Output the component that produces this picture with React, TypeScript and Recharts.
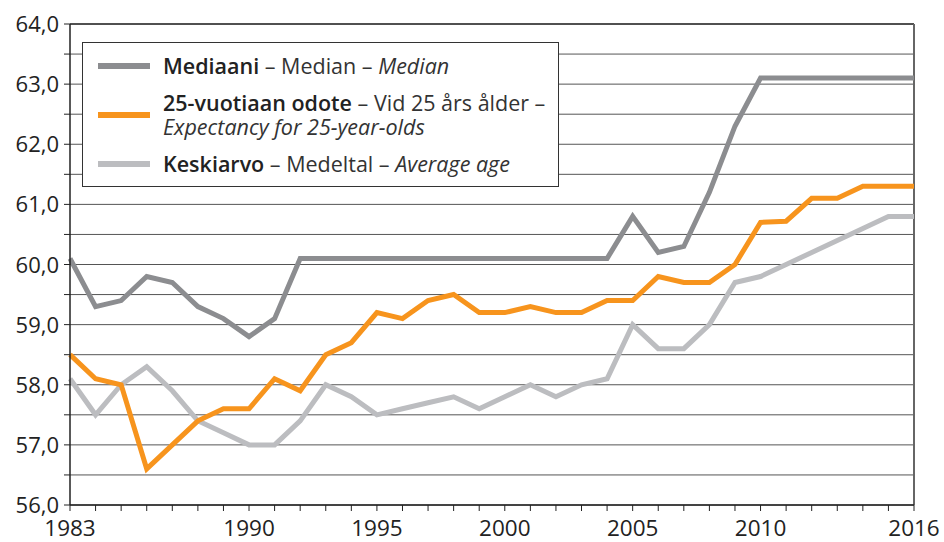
import React from "react";
import { LineChart, Line, XAxis, YAxis, CartesianGrid, ReferenceLine } from "recharts";

const YEARS = [
  1983, 1984, 1985, 1986, 1987, 1988, 1989, 1990, 1991, 1992, 1993, 1994, 1995, 1996, 1997, 1998, 1999,
  2000, 2001, 2002, 2003, 2004, 2005, 2006, 2007, 2008, 2009, 2010, 2011, 2012, 2013, 2014, 2015, 2016,
];
const MEDIAN = [
  60.1, 59.3, 59.4, 59.8, 59.7, 59.3, 59.1, 58.8, 59.1, 60.1, 60.1, 60.1, 60.1, 60.1, 60.1, 60.1, 60.1,
  60.1, 60.1, 60.1, 60.1, 60.1, 60.8, 60.2, 60.3, 61.2, 62.3, 63.1, 63.1, 63.1, 63.1, 63.1, 63.1, 63.1,
];
const EXPECTANCY = [
  58.5, 58.1, 58.0, 56.6, 57.0, 57.4, 57.6, 57.6, 58.1, 57.9, 58.5, 58.7, 59.2, 59.1, 59.4, 59.5, 59.2,
  59.2, 59.3, 59.2, 59.2, 59.4, 59.4, 59.8, 59.7, 59.7, 60.0, 60.7, 60.72, 61.1, 61.1, 61.3, 61.3, 61.3,
];
const AVERAGE = [
  58.1, 57.5, 58.0, 58.3, 57.9, 57.4, 57.2, 57.0, 57.0, 57.4, 58.0, 57.8, 57.5, 57.6, 57.7, 57.8, 57.6,
  57.8, 58.0, 57.8, 58.0, 58.1, 59.0, 58.6, 58.6, 59.0, 59.7, 59.8, 60.0, 60.2, 60.4, 60.6, 60.8, 60.8,
];
const X_LABELS = [1983, 1990, 1995, 2000, 2005, 2010, 2016];
const Y_TICKS = [56, 56.5, 57, 57.5, 58, 58.5, 59, 59.5, 60, 60.5, 61, 61.5, 62, 62.5, 63, 63.5, 64];

const COLORS = { median: "#8c8d90", expectancy: "#f7941d", average: "#bcbdc0" };
const FONT = "'Open Sans', 'Noto Sans', sans-serif";

const data = YEARS.map((year, i) => ({
  year,
  median: MEDIAN[i],
  expectancy: EXPECTANCY[i],
  average: AVERAGE[i],
}));

// eslint-disable-next-line @typescript-eslint/no-explicit-any
function XTick({ x, y, payload }: any) {
  if (!X_LABELS.includes(payload.value)) return null;
  return (
    <text x={x} y={y + 23} textAnchor="middle" fontSize={22.5} fill="#222" fontFamily={FONT}>
      {payload.value}
    </text>
  );
}

// eslint-disable-next-line @typescript-eslint/no-explicit-any
function YTick({ x, y, payload }: any) {
  if (payload.value % 1 !== 0) return null;
  return (
    <text x={x - 3} y={y + 8} textAnchor="end" fontSize={22} fill="#222" fontFamily={FONT}>
      {payload.value.toFixed(1).replace(".", ",")}
    </text>
  );
}

function Swatch({ color }: { color: string }) {
  return <span style={{ position: "absolute", left: 15, width: 52, height: 6, background: color, top: "50%", marginTop: -3 }} />;
}

// legend box drawn over the plot, top-left
function LegendBox() {
  const row: React.CSSProperties = { position: "relative", paddingLeft: 80, color: "#333", whiteSpace: "nowrap" };
  return (
    <div style={{ position: "absolute", left: 82, top: 42, border: "1.5px solid #333", background: "#fff", width: 477, height: 145, boxSizing: "border-box", fontFamily: FONT, fontSize: 21.5, lineHeight: "24px", paddingTop: 11 }}>
      <div style={row}>
        <Swatch color={COLORS.median} />
        <b style={{ color: "#222", fontWeight: 600 }}>Mediaani</b> – Median – <i>Median</i>
      </div>
      <div style={{ ...row, marginTop: 13 }}>
        <Swatch color={COLORS.expectancy} />
        <b style={{ color: "#222", fontWeight: 600 }}>25-vuotiaan odote</b> – Vid 25 års ålder –<br />
        <i>Expectancy for 25-year-olds</i>
      </div>
      <div style={{ ...row, marginTop: 13 }}>
        <Swatch color={COLORS.average} />
        <b style={{ color: "#222", fontWeight: 600 }}>Keskiarvo</b> – Medeltal – <i>Average age</i>
      </div>
    </div>
  );
}

export default function App() {
  return (
    <div style={{ position: "absolute", left: 0, top: 0, width: 944, height: 542, background: "#fff" }}>
      <LineChart width={944} height={542} data={data} margin={{ top: 24, right: 30, left: 0, bottom: 0 }}>
        <CartesianGrid horizontal vertical={false} stroke="#555" strokeWidth={1} />
        <XAxis
          dataKey="year"
          type="number"
          domain={[1983, 2016]}
          ticks={YEARS}
          interval={0}
          height={37}
          tick={<XTick />}
          tickSize={6}
          tickLine={{ stroke: "#222" }}
          axisLine={{ stroke: "#222", strokeWidth: 1.5 }}
        />
        <YAxis
          type="number"
          domain={[56, 64]}
          ticks={Y_TICKS}
          interval={0}
          width={70}
          tick={<YTick />}
          tickSize={6}
          tickLine={{ stroke: "#222" }}
          axisLine={{ stroke: "#222", strokeWidth: 1.5 }}
        />
        <ReferenceLine y={64} stroke="#333" strokeWidth={1.5} />
        <ReferenceLine x={2016} stroke="#666" strokeWidth={2} />
        <Line dataKey="average" stroke={COLORS.average} strokeWidth={5} dot={false} isAnimationActive={false} strokeLinejoin="miter" />
        <Line dataKey="expectancy" stroke={COLORS.expectancy} strokeWidth={5} dot={false} isAnimationActive={false} strokeLinejoin="miter" />
        <Line dataKey="median" stroke={COLORS.median} strokeWidth={5} dot={false} isAnimationActive={false} strokeLinejoin="miter" />
      </LineChart>
      <LegendBox />
    </div>
  );
}
